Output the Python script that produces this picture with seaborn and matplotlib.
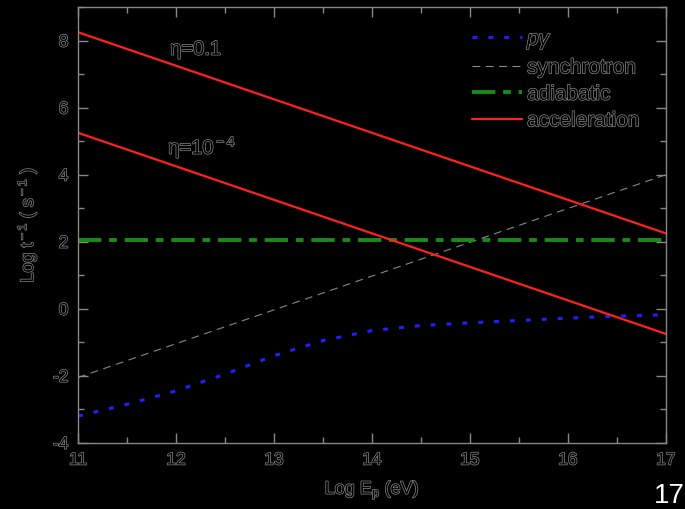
import numpy as np
import pandas as pd
import matplotlib
matplotlib.use("Agg")
import matplotlib.pyplot as plt
import matplotlib.patheffects as pe
from matplotlib.ticker import MultipleLocator
import seaborn as sns

# data
logE_line = [11, 17]
acc_eta01 = [8.25, 2.25]
acc_eta1e4 = [5.25, -0.75]
sync = [-2.05, 4.0]
adiab = [2.05, 2.05]
pg_x = [11, 11.5, 12, 12.5, 13, 13.5, 14, 14.5, 15, 15.5, 16, 16.5, 17]
pg_y = [-3.2, -2.85, -2.45, -1.95, -1.4, -0.95, -0.65, -0.5, -0.42, -0.35, -0.28, -0.22, -0.18]
xticks = [11, 12, 13, 14, 15, 16, 17]
yticks = [-4, -2, 0, 2, 4, 6, 8]

sns.set_style("dark")
plt.rcParams['font.family'] = ['Liberation Sans', 'DejaVu Sans']
plt.rcParams['mathtext.fontset'] = 'custom'
plt.rcParams['mathtext.it'] = 'Liberation Sans:italic'
plt.rcParams['mathtext.rm'] = 'Liberation Sans'
plt.rcParams['axes.unicode_minus'] = False

fig = plt.figure(figsize=(6.85, 5.09), dpi=100, facecolor='black')
ax = fig.add_axes([0.114, 0.130, 0.858, 0.856])
ax.set_facecolor('black')

outline = [pe.withStroke(linewidth=1.0, foreground='#8a8a8a')]
tcol = 'black'

sns.lineplot(x=pg_x, y=pg_y, ax=ax, color='#1f1fff', lw=2.2, linestyle=(0, (1.6, 3.6)), label=r'$p\gamma$')
sns.lineplot(x=logE_line, y=sync, ax=ax, color='#888888', lw=0.8, linestyle=(0, (7, 5)), label='synchrotron')
sns.lineplot(x=logE_line, y=adiab, ax=ax, color='#1a8a1a', lw=2.8, linestyle=(0, (6, 2, 2, 2)), label='adiabatic')
sns.lineplot(x=logE_line, y=acc_eta01, ax=ax, color='#ff2020', lw=1.6, label='acceleration')
sns.lineplot(x=logE_line, y=acc_eta1e4, ax=ax, color='#ff2020', lw=1.6)

ax.set_xlim(11, 17)
ax.set_ylim(-4, 9)
ax.set_xticks(xticks)
ax.set_xticklabels([str(v) for v in xticks])
ax.set_yticks(yticks)
ax.set_yticklabels([str(v) for v in yticks])
ax.xaxis.set_minor_locator(MultipleLocator(0.5))
ax.yaxis.set_minor_locator(MultipleLocator(1))
ax.tick_params(which='both', direction='in', color='#888888', top=True, right=True,
               bottom=True, left=True, labelsize=12.5, labelcolor=tcol, pad=7)
ax.tick_params(which='major', length=7, width=1)
ax.tick_params(which='minor', length=4, width=1)
for lab in ax.get_xticklabels() + ax.get_yticklabels():
    lab.set_path_effects(outline)
for sp in ax.spines.values():
    sp.set_color('#888888')
    sp.set_linewidth(1)
    sp.set_visible(True)
ax.grid(False)

ax.set_xlabel(r'Log E$_{\rm p}$ (eV)', fontsize=13, color=tcol, path_effects=outline, labelpad=8)
ax.set_ylabel('Log t$^{\\rm -1}$ ( s$^{\\rm -1}$ )', fontsize=13, color=tcol, path_effects=outline, labelpad=10)

ax.text(11.94, 7.58, '\u03b7=0.1', fontsize=14.5, color=tcol, path_effects=outline)
ax.text(11.92, 4.62, '\u03b7=10$^{\\rm -4}$', fontsize=14.5, color=tcol, path_effects=outline)

leg = ax.legend(loc='upper left', frameon=False, fontsize=15, handlelength=2.4,
                handletextpad=0.25, labelspacing=0.36, borderaxespad=0, borderpad=0,
                bbox_to_anchor=(0.67, 0.948))
for t in leg.get_texts():
    t.set_color(tcol)
    t.set_path_effects(outline)

fig.text(0.955, 0.0, '17', fontsize=20, color='white', ha='left', va='bottom')

fig.savefig('out.png', dpi=100, facecolor='black')
